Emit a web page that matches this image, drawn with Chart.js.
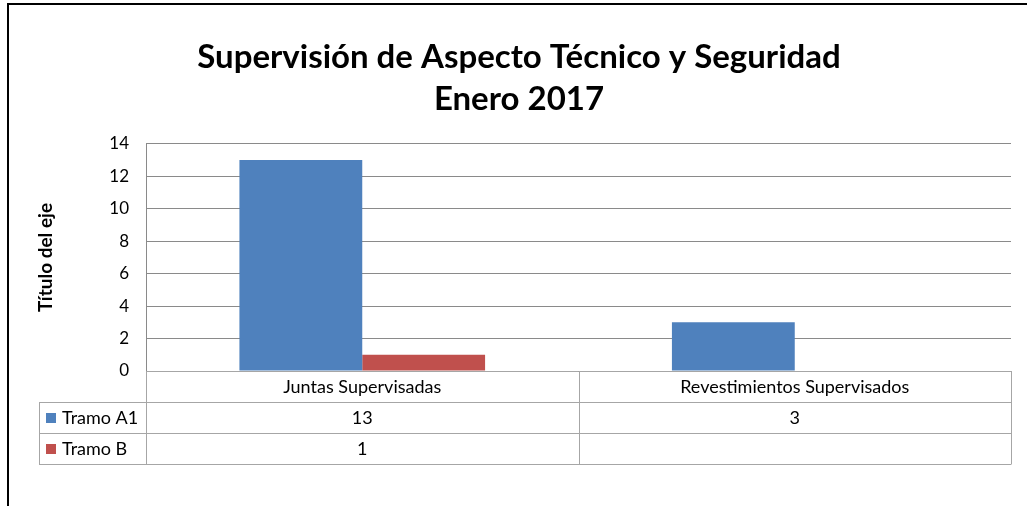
<!DOCTYPE html>
<html>
<head>
<meta charset="utf-8">
<script src="https://cdn.jsdelivr.net/npm/chart.js@4"></script>
<style>
  html, body { margin: 0; padding: 0; background: #fff; }
  #wrap { width: 1027px; height: 506px; }
</style>
</head>
<body>
<div id="wrap"><canvas id="chart"></canvas></div>
<script>
// data
const categories = ['Juntas Supervisadas', 'Revestimientos Supervisados'];
const seriesNames = ['Tramo A1', 'Tramo B'];
const tramoA1 = [13, 3];
const tramoB = [1, null];
const seriesColors = ['#4F81BD', '#C0504D'];
const yMax = 14;
const yStep = 2;

const FONT = 'Lato, "Open Sans", sans-serif';
const GRID = '#8a8a8a';
const TABLE = '#a6a6a6';

// frame + data table under the plot
const tablePlugin = {
  id: 'dataTable',
  afterDraw(chart) {
    const ctx = chart.ctx;
    const area = chart.chartArea;
    const x = chart.scales.x;
    const rowH = (x.bottom - x.top) / 3;
    const top = area.bottom;
    const legendLeft = 39;
    const series = [tramoA1, tramoB];

    ctx.save();
    // outer frame (left + top only, like the screenshot)
    ctx.strokeStyle = '#000';
    ctx.lineWidth = 2;
    ctx.beginPath();
    ctx.moveTo(8, 506); ctx.lineTo(8, 4); ctx.lineTo(1027, 4);
    ctx.stroke();

    ctx.strokeStyle = TABLE;
    ctx.lineWidth = 1;
    ctx.beginPath();
    // horizontal lines
    ctx.moveTo(area.left, top + 0.5); ctx.lineTo(area.right, top + 0.5);
    for (let r = 1; r <= 3; r++) {
      const yy = Math.round(top + r * rowH) + 0.5;
      ctx.moveTo(legendLeft, yy); ctx.lineTo(area.right, yy);
    }
    // vertical lines
    const bottom = Math.round(top + 3 * rowH) + 0.5;
    ctx.moveTo(legendLeft + 0.5, Math.round(top + rowH)); ctx.lineTo(legendLeft + 0.5, bottom);
    const colW = (area.right - area.left) / categories.length;
    for (let c = 0; c <= categories.length; c++) {
      const xx = Math.round(area.left + c * colW) + 0.5;
      ctx.moveTo(xx, top); ctx.lineTo(xx, bottom);
    }
    ctx.stroke();

    // header labels and values
    ctx.fillStyle = '#000';
    ctx.font = '18px ' + FONT;
    ctx.textAlign = 'center';
    ctx.textBaseline = 'middle';
    categories.forEach((cat, i) => {
      const cx = x.getPixelForValue(i);
      ctx.fillText(cat, cx, top + rowH / 2 + 1);
      series.forEach((s, j) => {
        if (s[i] !== null && s[i] !== undefined) {
          ctx.fillText(String(s[i]), cx, top + rowH * (j + 1.5) + 1);
        }
      });
    });

    // legend keys
    ctx.textAlign = 'left';
    seriesNames.forEach((name, j) => {
      const cy = top + rowH * (j + 1.5);
      ctx.fillStyle = seriesColors[j];
      ctx.fillRect(legendLeft + 7, Math.round(cy - 5), 10, 10);
      ctx.fillStyle = '#000';
      ctx.fillText(name, legendLeft + 23, cy + 1);
    });
    ctx.restore();
  }
};

new Chart(document.getElementById('chart'), {
  type: 'bar',
  data: {
    labels: categories,
    datasets: [
      { label: seriesNames[0], data: tramoA1, backgroundColor: seriesColors[0] },
      { label: seriesNames[1], data: tramoB, backgroundColor: seriesColors[1] }
    ]
  },
  options: {
    responsive: true,
    maintainAspectRatio: false,
    animation: false,
    categoryPercentage: 0.568,
    barPercentage: 1.0,
    layout: { padding: { left: 27, right: 16, top: 0, bottom: 42 } },
    plugins: {
      legend: { display: false },
      tooltip: { enabled: false },
      title: {
        display: true,
        text: ['Supervisión de Aspecto Técnico y Seguridad', 'Enero 2017'],
        color: '#000',
        font: { family: FONT, size: 33, weight: 'bold', lineHeight: 1.27 },
        padding: { top: 36, bottom: 24 }
      }
    },
    scales: {
      x: {
        ticks: { display: false },
        grid: { display: false, drawTicks: false },
        border: { display: false },
        afterFit(scale) { scale.height = 93; }
      },
      y: {
        min: 0,
        max: yMax,
        ticks: { stepSize: yStep, color: '#000', padding: 17, font: { family: FONT, size: 17 } },
        grid: { color: GRID, drawTicks: false },
        border: { color: GRID },
        title: {
          display: true,
          text: 'Título del eje',
          color: '#000',
          font: { family: FONT, size: 19, weight: 'bold' },
          padding: { top: 7 }
        },
        afterFit(scale) { scale.width = 119; }
      }
    }
  },
  plugins: [tablePlugin]
});
</script>
</body>
</html>
